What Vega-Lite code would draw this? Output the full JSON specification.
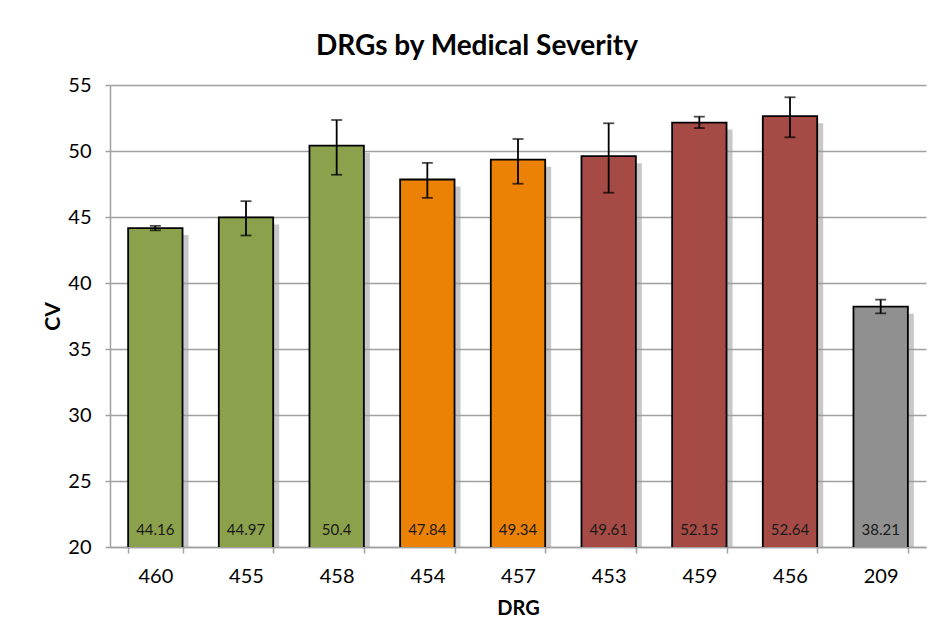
{
  "$schema": "https://vega.github.io/schema/vega-lite/v6.json",
  "width": 816,
  "height": 462,
  "autosize": {"type": "none"},
  "padding": {"left": 110, "top": 85, "right": 12, "bottom": 97},
  "background": "white",
  "title": {
    "text": "DRGs by Medical Severity",
    "font": "Lato",
    "fontSize": 28,
    "fontWeight": "bold",
    "color": "#000000",
    "anchor": "middle",
    "dx": -41,
    "offset": 14
  },
  "config": {
    "view": {"stroke": null},
    "font": "Lato"
  },
  "data": {
    "values": [
      {"DRG": "460", "CV": 44.16, "lo": 43.99, "hi": 44.33, "grp": "g"},
      {"DRG": "455", "CV": 44.97, "lo": 43.6, "hi": 46.2, "grp": "g"},
      {"DRG": "458", "CV": 50.4, "lo": 48.2, "hi": 52.35, "grp": "g"},
      {"DRG": "454", "CV": 47.84, "lo": 46.45, "hi": 49.1, "grp": "o"},
      {"DRG": "457", "CV": 49.34, "lo": 47.52, "hi": 50.91, "grp": "o"},
      {"DRG": "453", "CV": 49.61, "lo": 46.84, "hi": 52.1, "grp": "r"},
      {"DRG": "459", "CV": 52.15, "lo": 51.74, "hi": 52.6, "grp": "r"},
      {"DRG": "456", "CV": 52.64, "lo": 51.04, "hi": 54.07, "grp": "r"},
      {"DRG": "209", "CV": 38.21, "lo": 37.7, "hi": 38.74, "grp": "x"}
    ]
  },
  "encoding": {
    "x": {
      "field": "DRG",
      "type": "nominal",
      "sort": null,
      "scale": {"paddingInner": 0.4, "paddingOuter": 0.2},
      "axis": {
        "title": "DRG",
        "labelAngle": 0,
        "labelFont": "Lato",
        "labelFontSize": 20,
        "labelColor": "#000000",
        "labelPadding": 13,
        "tickBand": "extent",
        "tickSize": 6,
        "tickColor": "#A0A0A0",
        "tickWidth": 1.5,
        "domainColor": "#A0A0A0",
        "domainWidth": 1.5,
        "titleFont": "Lato",
        "titleFontSize": 20,
        "titleFontWeight": "bold",
        "titleColor": "#000000",
        "titlePadding": 12
      }
    }
  },
  "layer": [
    {
      "mark": {"type": "bar", "color": "#9A9A9A", "opacity": 0.55, "xOffset": 6, "yOffset": 7, "clip": true},
      "encoding": {
        "y": {
          "field": "CV",
          "type": "quantitative",
          "scale": {"domain": [20, 55], "zero": false, "nice": false},
          "axis": {
            "title": "CV",
            "values": [20, 25, 30, 35, 40, 45, 50, 55],
            "grid": true,
            "gridColor": "#A0A0A0",
            "gridWidth": 1.5,
            "labelFont": "Lato",
            "labelFontSize": 20,
            "labelColor": "#000000",
            "labelPadding": 14,
            "tickSize": 5,
            "tickColor": "#A0A0A0",
            "tickWidth": 1.5,
            "domainColor": "#A0A0A0",
            "domainWidth": 1.5,
            "titleFont": "Lato",
            "titleFontSize": 21,
            "titleFontWeight": "bold",
            "titleColor": "#000000",
            "titlePadding": 4
          }
        }
      }
    },
    {
      "mark": {"type": "bar", "stroke": "#000000", "strokeWidth": 1.8, "clip": true},
      "encoding": {
        "y": {"field": "CV", "type": "quantitative"},
        "color": {
          "field": "grp",
          "type": "nominal",
          "legend": null,
          "scale": {"domain": ["g", "o", "r", "x"], "range": ["#8BA14C", "#EB8105", "#A54A44", "#909090"]}
        }
      }
    },
    {
      "mark": {"type": "rule", "color": "#000000", "strokeWidth": 1.8},
      "encoding": {
        "y": {"field": "lo", "type": "quantitative"},
        "y2": {"field": "hi"}
      }
    },
    {
      "mark": {"type": "tick", "color": "#000000", "size": 11, "thickness": 1.8, "orient": "horizontal"},
      "encoding": {"y": {"field": "lo", "type": "quantitative"}}
    },
    {
      "mark": {"type": "tick", "color": "#000000", "size": 11, "thickness": 1.8, "orient": "horizontal"},
      "encoding": {"y": {"field": "hi", "type": "quantitative"}}
    },
    {
      "mark": {"type": "text", "font": "Lato", "fontSize": 15, "color": "#1a1a1a", "baseline": "alphabetic", "dy": -12},
      "encoding": {
        "y": {"datum": 20, "type": "quantitative"},
        "text": {"field": "CV", "type": "quantitative"}
      }
    }
  ]
}
